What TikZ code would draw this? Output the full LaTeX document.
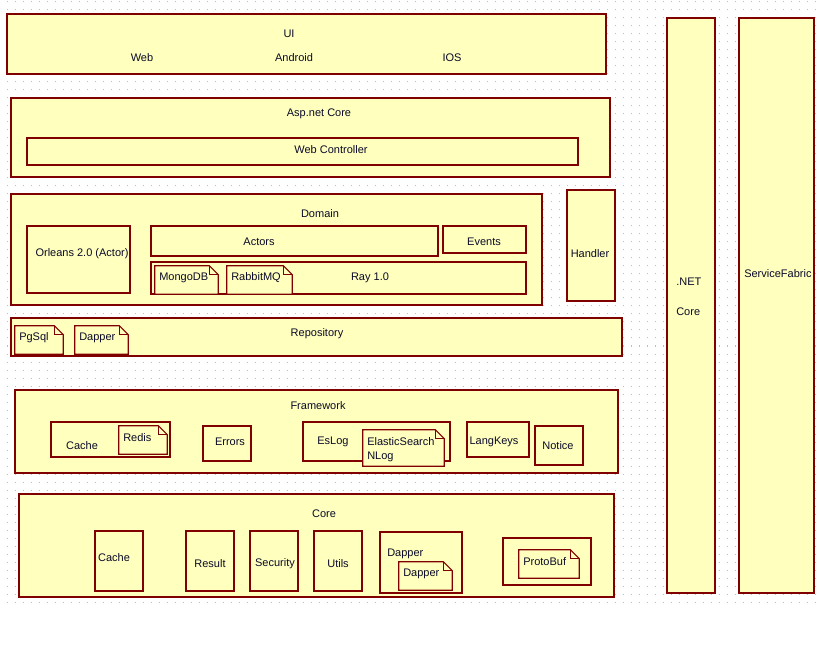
\documentclass[tikz,border=0pt]{standalone}
\usepackage{fontspec}
\setmainfont{Liberation Sans}
\usepackage{tikz}
\usetikzlibrary{fit}
\definecolor{umlfill}{RGB}{255,255,190}
\definecolor{umlline}{RGB}{128,0,0}
\definecolor{umltext}{RGB}{10,10,40}
\definecolor{griddot}{RGB}{190,190,190}

\begin{document}
\begin{tikzpicture}[x=0.75pt, y=-0.75pt,
  box/.style={draw=umlline, fill=umlfill, line width=0.8pt, inner sep=0pt},
  note/.style={inner sep=0pt,
    append after command={\pgfextra{\let\notenode\tikzlastnode
      \draw[umlline, fill=umlfill, line width=0.8pt]
        (\notenode.north west) -- ([xshift=-6.75pt]\notenode.north east)
        -- ([yshift=-6.75pt]\notenode.north east) -- (\notenode.south east)
        -- (\notenode.south west) -- cycle;
      \draw[umlline, line width=0.8pt]
        ([xshift=-6.75pt]\notenode.north east) |- ([yshift=-6.75pt]\notenode.north east);}}},
  txt/.style={font=\fontsize{8.25}{10}\selectfont, text=umltext, inner sep=0pt},
  gridline/.style={griddot, line width=0.75pt, dash pattern=on 0.75pt off 5.25pt}
]
\useasboundingbox (0,0) rectangle (823,655);

%% -- dotted grid -----------------------------------------------------------
\foreach \gy in {2,10,...,602}
  \draw[gridline] (6.5,\gy) -- (816,\gy);

%% -- UI --------------------------------------------------------------------
\node[box, fit={(7,14) (606,74)}] (ui) {};
\node[txt] (uititle) at (289,34) {UI};
\node[txt] (web)     at (142,58) {Web};
\node[txt] (android) at (294,58) {Android};
\node[txt] (ios)     at (452,58) {IOS};

%% -- Asp.net Core ----------------------------------------------------------
\node[box, fit={(11,98) (610,177)}] (asp) {};
\node[txt] (asptitle) at (319,114) {Asp.net Core};
\node[box, fit={(27,138) (578,165)}] (webctl) {};
\node[txt] (webctltxt) at (331,150) {Web Controller};

%% -- Domain ----------------------------------------------------------------
\node[box, fit={(11,194) (542,305)}] (domain) {};
\node[txt] (domaintitle) at (320,214) {Domain};
\node[box, fit={(27,226) (130,293)}] (orleans) {};
\node[txt] (orleanstxt) at (82,254) {Orleans 2.0 (Actor)};
\node[box, fit={(151,226) (438,256)}] (actors) {};
\node[txt] (actorstxt) at (259,242) {Actors};
\node[box, fit={(443,226) (526,253)}] (events) {};
\node[txt] (eventstxt) at (484,242) {Events};
\node[box, fit={(151,262) (526,294)}] (ray) {};
\node[txt] (raytxt) at (370,278) {Ray 1.0};
\node[note, fit={(155,266) (218,294)}] (mongo) {};
\node[txt, anchor=west] (mongotxt) at (159,278) {MongoDB};
\node[note, fit={(227,266) (292,294)}] (rabbit) {};
\node[txt, anchor=west] (rabbittxt) at (231,278) {RabbitMQ};

\node[box, fit={(567,190) (615,301)}] (handler) {};
\node[txt] (handlertxt) at (590,254) {Handler};

%% -- Repository ------------------------------------------------------------
\node[box, fit={(11,318) (622,356)}] (repo) {};
\node[txt] (repotitle) at (317,334) {Repository};
\node[note, fit={(15,326) (63,354)}] (pgsql) {};
\node[txt, anchor=west] (pgsqltxt) at (19,338) {PgSql};
\node[note, fit={(75,326) (128,354)}] (repodapper) {};
\node[txt, anchor=west] (repodappertxt) at (79,338) {Dapper};

%% -- Framework -------------------------------------------------------------
\node[box, fit={(15,390) (618,473)}] (framework) {};
\node[txt] (fwtitle) at (318,406) {Framework};
\node[box, fit={(51,422) (170,457)}] (fwcache) {};
\node[txt] (fwcachetxt) at (82,446) {Cache};
\node[note, fit={(119,426) (167,454)}] (redis) {};
\node[txt, anchor=west] (redistxt) at (123,438) {Redis};
\node[box, fit={(203,426) (251,461)}] (errors) {};
\node[txt] (errorstxt) at (230,442) {Errors};
\node[box, fit={(303,422) (450,461)}] (eslog) {};
\node[txt] (eslogtxt) at (333,442) {EsLog};
\node[note, fit={(363,430) (444,466)}] (esnote) {};
\node[txt, anchor=west] (elastictxt) at (367,442) {ElasticSearch};
\node[txt, anchor=west] (nlogtxt) at (367,457) {NLog};
\node[box, fit={(467,422) (529,457)}] (langkeys) {};
\node[txt] (langkeystxt) at (494,442) {LangKeys};
\node[box, fit={(535,426) (583,465)}] (notice) {};
\node[txt] (noticetxt) at (558,446) {Notice};

%% -- Core ------------------------------------------------------------------
\node[box, fit={(19,494) (614,597)}] (core) {};
\node[txt] (coretitle) at (324,514) {Core};
\node[box, fit={(95,531) (143,591)}] (corecache) {};
\node[txt] (corecachetxt) at (114,558) {Cache};
\node[box, fit={(186,531) (234,591)}] (result) {};
\node[txt] (resulttxt) at (210,564) {Result};
\node[box, fit={(250,531) (298,591)}] (security) {};
\node[txt] (securitytxt) at (275,564) {Security};
\node[box, fit={(314,531) (362,591)}] (utils) {};
\node[txt] (utilstxt) at (338,564) {Utils};
\node[box, fit={(380,532) (462,593)}] (dapperbox) {};
\node[txt, anchor=west] (dapperboxtxt) at (387,554) {Dapper};
\node[note, fit={(399,562) (452,590)}] (dappernote) {};
\node[txt, anchor=west] (dappernotetxt) at (403,574) {Dapper};
\node[box, fit={(503,538) (591,585)}] (protobox) {};
\node[note, fit={(519,550) (579,578)}] (protonote) {};
\node[txt, anchor=west] (prototxt) at (523,562) {ProtoBuf};

%% -- platform columns ------------------------------------------------------
\node[box, fit={(667,18) (715,593)}] (dotnet) {};
\node[txt, anchor=west] (dotnettxt) at (676,282) {.NET};
\node[txt, anchor=west] (dotnetcore) at (676,312) {Core};
\node[box, fit={(739,18) (814,593)}] (fabric) {};
\node[txt, anchor=west] (fabrictxt) at (744,274) {ServiceFabric};

\end{tikzpicture}
\end{document}
